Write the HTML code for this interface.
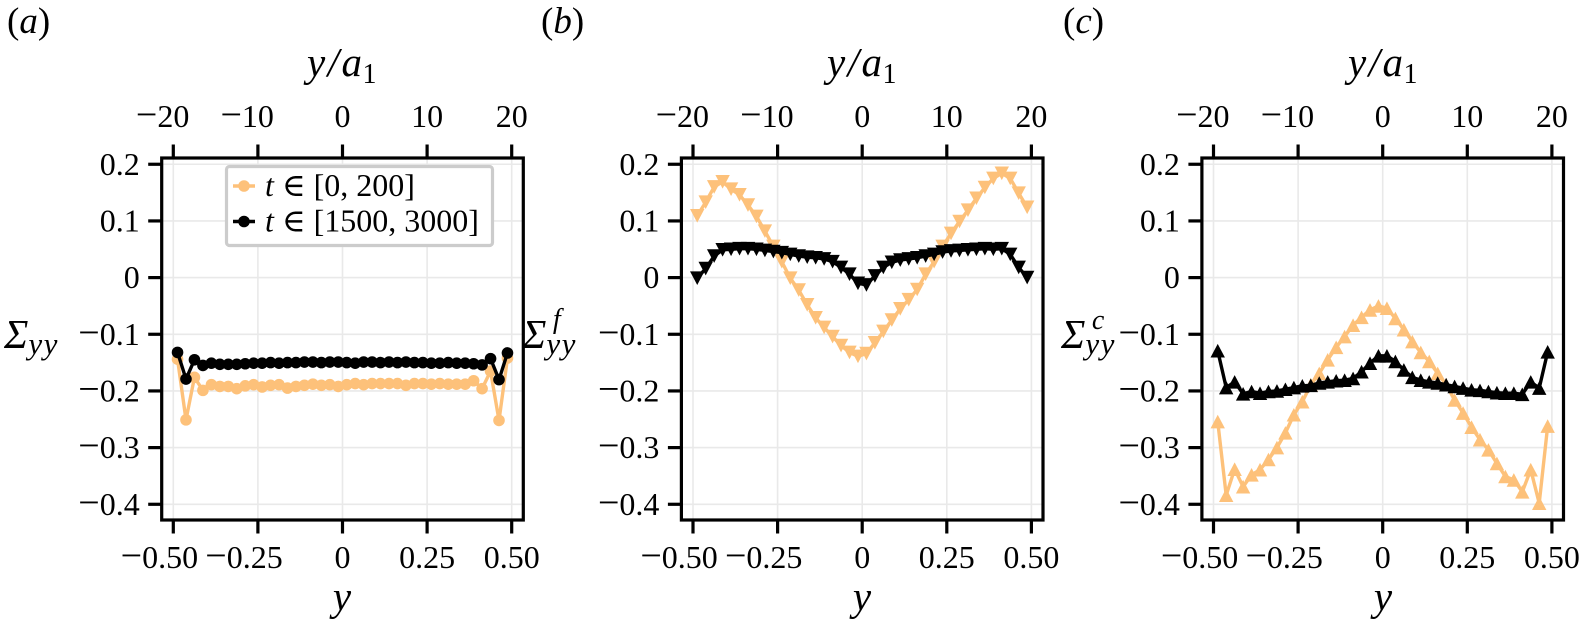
<!DOCTYPE html>
<html lang="en">
<head>
<meta charset="utf-8">
<title>Stress profiles</title>
<style>
html,body{margin:0;padding:0;background:#fff;width:1581px;height:623px;overflow:hidden}
svg{display:block}
text{font-family:"Liberation Serif","DejaVu Serif",serif;fill:#000}
.tick{font-size:32px}
.lab{font-size:41px;font-style:italic}
.top{letter-spacing:2.5px}
.up{font-style:normal}
.panel{font-size:37px}
.leg{font-size:32px}
</style>
</head>
<body>
<svg id="fig" xmlns="http://www.w3.org/2000/svg" width="1581" height="623" viewBox="0 0 1581 623">
  <text class="panel" x="7" y="33">(<tspan font-style="italic">a</tspan>)</text>
  <text class="panel" x="541" y="33">(<tspan font-style="italic">b</tspan>)</text>
  <text class="panel" x="1063" y="33">(<tspan font-style="italic">c</tspan>)</text>

  <text class="lab top" x="343" y="76" text-anchor="middle">y/a<tspan class="up" font-size="28" dx="-2" dy="7">1</tspan></text>
  <text class="lab top" x="863" y="76" text-anchor="middle">y/a<tspan class="up" font-size="28" dx="-2" dy="7">1</tspan></text>
  <text class="lab top" x="1384" y="76" text-anchor="middle">y/a<tspan class="up" font-size="28" dx="-2" dy="7">1</tspan></text>

  <text class="lab" x="342" y="610" text-anchor="middle">y</text>
  <text class="lab" x="862" y="610" text-anchor="middle">y</text>
  <text class="lab" x="1383" y="610" text-anchor="middle">y</text>

  <text class="lab" x="4" y="348">Σ<tspan font-size="31" letter-spacing="1.5" dy="6">yy</tspan></text>
  <text class="lab" x="522" y="348">Σ<tspan font-size="31" letter-spacing="1.5" dy="6">yy</tspan><tspan font-size="28" dx="-24" dy="-26">f</tspan></text>
  <text class="lab" x="1061" y="348">Σ<tspan font-size="31" letter-spacing="1.5" dy="6">yy</tspan><tspan font-size="28" dx="-24" dy="-25">c</tspan></text>
</svg>
<script>
const positions = [-0.4875,-0.4625,-0.4375,-0.4125,-0.3875,-0.3625,-0.3375,-0.3125,-0.2875,-0.2625,-0.2375,-0.2125,-0.1875,-0.1625,-0.1375,-0.1125,-0.0875,-0.0625,-0.0375,-0.0125,0.0125,0.0375,0.0625,0.0875,0.1125,0.1375,0.1625,0.1875,0.2125,0.2375,0.2625,0.2875,0.3125,0.3375,0.3625,0.3875,0.4125,0.4375,0.4625,0.4875];

const totalEarly = [-0.144,-0.251,-0.176,-0.199,-0.189,-0.192,-0.192,-0.196,-0.191,-0.189,-0.193,-0.190,-0.189,-0.195,-0.192,-0.190,-0.188,-0.190,-0.189,-0.192,-0.189,-0.187,-0.189,-0.187,-0.187,-0.187,-0.187,-0.190,-0.187,-0.187,-0.188,-0.187,-0.188,-0.188,-0.188,-0.182,-0.196,-0.165,-0.252,-0.142];
const totalLate = [-0.132,-0.179,-0.145,-0.155,-0.151,-0.153,-0.153,-0.153,-0.152,-0.151,-0.151,-0.150,-0.151,-0.150,-0.150,-0.149,-0.149,-0.150,-0.149,-0.149,-0.150,-0.151,-0.149,-0.149,-0.150,-0.149,-0.150,-0.149,-0.150,-0.150,-0.151,-0.151,-0.150,-0.151,-0.151,-0.152,-0.154,-0.143,-0.180,-0.133];

const fluidEarly = [0.109,0.133,0.160,0.169,0.156,0.146,0.128,0.108,0.082,0.055,0.028,-0.001,-0.022,-0.048,-0.071,-0.088,-0.104,-0.120,-0.132,-0.139,-0.134,-0.115,-0.095,-0.075,-0.055,-0.039,-0.021,0.006,0.028,0.055,0.078,0.099,0.119,0.140,0.159,0.175,0.184,0.175,0.149,0.124];
const fluidLate = [-0.001,0.016,0.038,0.049,0.050,0.051,0.051,0.050,0.048,0.046,0.044,0.041,0.038,0.036,0.035,0.033,0.028,0.018,0.006,-0.010,-0.013,0.003,0.018,0.027,0.031,0.033,0.035,0.038,0.041,0.045,0.047,0.048,0.049,0.050,0.051,0.050,0.051,0.041,0.018,0.000];

const contactEarly = [-0.254,-0.384,-0.338,-0.369,-0.348,-0.339,-0.321,-0.300,-0.274,-0.242,-0.219,-0.189,-0.169,-0.145,-0.123,-0.104,-0.084,-0.070,-0.057,-0.050,-0.054,-0.072,-0.092,-0.113,-0.132,-0.148,-0.169,-0.189,-0.216,-0.239,-0.264,-0.286,-0.304,-0.328,-0.351,-0.357,-0.378,-0.339,-0.398,-0.262];
const contactLate = [-0.129,-0.194,-0.184,-0.205,-0.201,-0.204,-0.201,-0.200,-0.197,-0.194,-0.191,-0.190,-0.186,-0.184,-0.182,-0.181,-0.178,-0.166,-0.151,-0.138,-0.138,-0.148,-0.163,-0.176,-0.181,-0.184,-0.186,-0.189,-0.192,-0.195,-0.198,-0.199,-0.201,-0.203,-0.204,-0.204,-0.206,-0.184,-0.195,-0.131];

const xTickValues = [-0.5,-0.25,0,0.25,0.5];
const xTickLabels = ['−0.50','−0.25','0','0.25','0.50'];
const topTickValues = [-20,-10,0,10,20];
const topTickLabels = ['−20','−10','0','10','20'];
const yTickValues = [0.2,0.1,0,-0.1,-0.2,-0.3,-0.4];
const yTickLabels = ['0.2','0.1','0','−0.1','−0.2','−0.3','−0.4'];
const legendLabels = ['[0, 200]','[1500, 3000]'];

const EARLY = '#fdc17a';
const LATE = '#000000';
const NS = 'http://www.w3.org/2000/svg';
const svg = document.getElementById('fig');
const MINUS_SIZE = 38;
const MINUS_SHIFT = 10.7;

function yScale(v){ return 277.6 - v * 566.7; }
function topToY(v){ return v * 0.025; }

function make(parent, tag, attrs){
  const el = document.createElementNS(NS, tag);
  for (const k in attrs) el.setAttribute(k, attrs[k]);
  parent.appendChild(el);
  return el;
}

function fillLabel(el, str){
  if (str.charAt(0) === '−') {
    const m = make(el, 'tspan', {'font-size':MINUS_SIZE});
    m.textContent = '−';
    el.appendChild(document.createTextNode(str.slice(1)));
  } else {
    el.textContent = str;
  }
}

function hang(str){ return str.charAt(0) === '−' ? -MINUS_SHIFT : 0; }

function marker(g, kind, px, py, color){
  let el;
  if (kind === 'circle') {
    el = make(g, 'circle', {cx:px, cy:py, r:5.8, fill:color});
  } else {
    const s = kind === 'up' ? 1 : -1;
    const w = 7.2, h = 6.8;
    el = make(g, 'polygon', {points:`${px},${py-s*h} ${px+w},${py+s*h} ${px-w},${py+s*h}`, fill:color});
  }
  return el;
}

function drawPanel(id, cx, kind, early, late){
  const xScale = v => cx + v * 338.4;
  const left = cx - 180.8, right = cx + 180.8, top = 158, bottom = 520;
  const g = make(svg, 'g', {});
  
  

  xTickValues.forEach((v, i) => {
    const px = xScale(v);
    const grid = make(g, 'line', {x1:px, x2:px, y1:top, y2:bottom, stroke:'#e9e9e9', 'stroke-width':1.6});
    
    
    const tick = make(g, 'line', {x1:px, x2:px, y1:bottom, y2:bottom + 13.5, stroke:'#000', 'stroke-width':3.2});
    
    
    const label = make(g, 'text', {x:px + 1.3 * hang(xTickLabels[i]), y:568, 'text-anchor':'middle', class:'tick'});
    fillLabel(label, xTickLabels[i]);
    
    
  });

  topTickValues.forEach((v, i) => {
    const px = xScale(topToY(v));
    const tick = make(g, 'line', {x1:px, x2:px, y1:top, y2:top - 13.5, stroke:'#000', 'stroke-width':3.2});
    
    
    const label = make(g, 'text', {x:px + hang(topTickLabels[i]), y:127, 'text-anchor':'middle', class:'tick'});
    fillLabel(label, topTickLabels[i]);
    
    
  });

  yTickValues.forEach((v, i) => {
    const py = yScale(v);
    const grid = make(g, 'line', {x1:left, x2:right, y1:py, y2:py, stroke:'#e9e9e9', 'stroke-width':1.6});
    
    
    const tick = make(g, 'line', {x1:left, x2:left - 13.5, y1:py, y2:py, stroke:'#000', 'stroke-width':3.2});
    
    
    const label = make(g, 'text', {x:left - 22, y:py + 10.5, 'text-anchor':'end', class:'tick'});
    fillLabel(label, yTickLabels[i]);
    
    
  });

  [[early, EARLY, 'early'], [late, LATE, 'late']].forEach(([values, color, name]) => {
    const s = make(g, 'g', {});
    
    
    const pts = values.map((v, i) => xScale(positions[i]).toFixed(2) + ',' + yScale(v).toFixed(2)).join(' ');
    const line = make(s, 'polyline', {points:pts, fill:'none', stroke:color, 'stroke-width':3.4, 'stroke-linejoin':'round'});
    
    
    values.forEach((v, i) => {
      const m = marker(s, kind, xScale(positions[i]), yScale(v), color);
      
      
    });
  });

  const frame = make(g, 'rect', {x:left, y:top, width:right - left, height:bottom - top, fill:'none', stroke:'#000', 'stroke-width':3.2});
  
  
}

drawPanel('a', 342.5, 'circle', totalEarly, totalLate);
drawPanel('b', 862.2, 'down', fluidEarly, fluidLate);
drawPanel('c', 1382.7, 'up', contactEarly, contactLate);

const legend = make(svg, 'g', {});


const legendBox = make(legend, 'rect', {x:226.5, y:166.5, width:266, height:79, rx:3, fill:'#fff', stroke:'#cccccc', 'stroke-width':3.2});


[EARLY, LATE].forEach((color, i) => {
  const cy = 186 + i * 35.5;
  const handle = make(legend, 'line', {x1:233, x2:255, y1:cy, y2:cy, stroke:color, 'stroke-width':3.4});
  
  
  const dot = make(legend, 'circle', {cx:244, cy:cy, r:5.8, fill:color});
  
  
  const text = make(legend, 'text', {x:265, y:cy + 10, class:'leg'});
  const t = make(text, 'tspan', {'font-style':'italic'});
  t.textContent = 't';
  text.appendChild(document.createTextNode(' ∈ ' + legendLabels[i]));
  
  
});
</script>
</body>
</html>
